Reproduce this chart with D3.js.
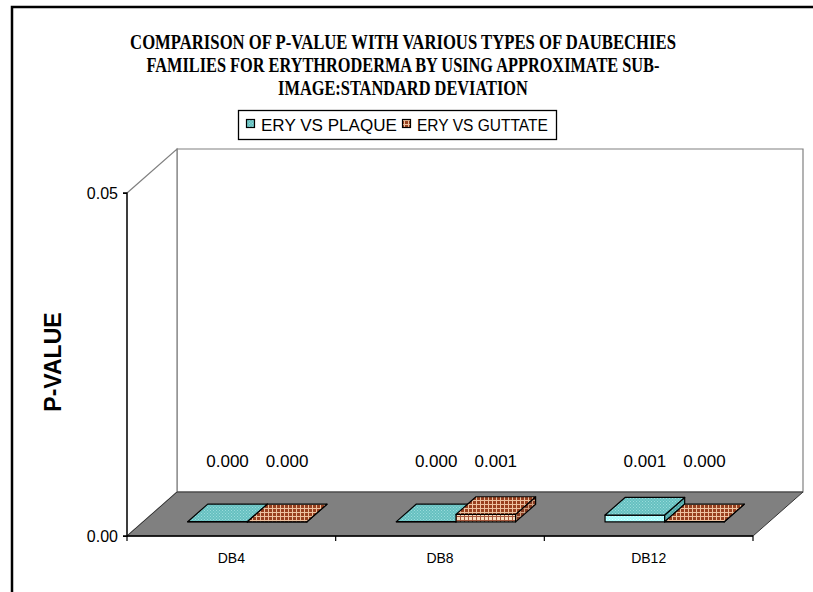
<!DOCTYPE html>
<html>
<head>
<meta charset="utf-8">
<script src="https://cdn.jsdelivr.net/npm/d3@7"></script>
<style>
  html, body { margin: 0; padding: 0; background: #fff; overflow: hidden; }
  svg { display: block; }
</style>
</head>
<body>
<script>
// ---------- data ----------
const categories = ["DB4", "DB8", "DB12"];
const seriesNames = ["ERY VS PLAQUE", "ERY VS GUTTATE"];
const plaqueValues = [0.00003, 0.00004, 0.0010];
const guttateValues = [0.00002, 0.0011, 0.00003];
const yTicks = [0, 0.05];
const titleLines = [
  "COMPARISON OF P-VALUE WITH VARIOUS TYPES OF DAUBECHIES",
  "FAMILIES FOR ERYTHRODERMA BY USING APPROXIMATE SUB-",
  "IMAGE:STANDARD DEVIATION"
];
const yAxisTitle = "P-VALUE";

// ---------- layout ----------
const W = 813, H = 592;
const plotLeft = 127, plotRight = 753, floorY = 536, topY = 193;
const depthX = 50, depthY = -44;      // oblique depth offset of the back wall
const barD0 = 0.32, barD1 = 0.72;     // depth span of bars (fraction of floor depth)

const svg = d3.select("body").append("svg").attr("width", W).attr("height", H);
const defs = svg.append("defs");
svg.append("rect").attr("width", W).attr("height", H).attr("fill", "#fff");

// patterns
function gridPattern(id, base, line, step, lw) {
  const p = defs.append("pattern").attr("id", id).attr("patternUnits", "userSpaceOnUse")
    .attr("width", step).attr("height", step);
  p.append("rect").attr("width", step).attr("height", step).attr("fill", base);
  p.append("rect").attr("x", 0).attr("y", 0).attr("width", lw).attr("height", step).attr("fill", line);
  p.append("rect").attr("x", 0).attr("y", 0).attr("width", step).attr("height", lw).attr("fill", line);
}
function dotPattern(id, base, dot) {
  const p = defs.append("pattern").attr("id", id).attr("patternUnits", "userSpaceOnUse")
    .attr("width", 3).attr("height", 3);
  p.append("rect").attr("width", 3).attr("height", 3).attr("fill", base);
  p.append("rect").attr("x", 0).attr("y", 0).attr("width", 1).attr("height", 1).attr("fill", dot);
  p.append("rect").attr("x", 1.5).attr("y", 1.5).attr("width", 1).attr("height", 1).attr("fill", dot);
}
dotPattern("plaqueTop", "#66c0c0", "#9adcdc");
dotPattern("plaqueFront", "#a4fcfc", "#dfffff");
dotPattern("plaqueSide", "#4fa6a6", "#7cc8c8");
gridPattern("guttTop", "#98401f", "#edc2a0", 4, 1);
gridPattern("guttFront", "#f6dcc0", "#a4553a", 4, 1);
gridPattern("guttSide", "#843a20", "#d0a080", 4, 1);

const fills = [
  { top: "url(#plaqueTop)", front: "url(#plaqueFront)", side: "url(#plaqueSide)" },
  { top: "url(#guttTop)", front: "url(#guttFront)", side: "url(#guttSide)" }
];

// scales
const x = d3.scaleBand().domain(categories).range([plotLeft, plotRight]).padding(0);
const xInner = d3.scaleBand().domain(seriesNames).range([0, x.bandwidth()])
  .paddingInner(0).paddingOuter(0.75);
const y = d3.scaleLinear().domain([0, 0.05]).range([floorY, topY]);

const P = (px, py, d) => [px + depthX * d, py + depthY * d];
const poly = pts => "M" + pts.map(p => p.join(",")).join("L") + "Z";

// walls
const y0 = y(0), yTop = y(yTicks[yTicks.length - 1]);
svg.append("path")
  .attr("d", poly([P(plotLeft, yTop, 1), P(plotRight, yTop, 1), P(plotRight, y0, 1), P(plotLeft, y0, 1)]))
  .attr("fill", "#fff").attr("stroke", "#808080").attr("stroke-width", 1.2);
svg.append("path")
  .attr("d", poly([[plotLeft, yTop], P(plotLeft, yTop, 1), P(plotLeft, y0, 1), [plotLeft, y0]]))
  .attr("fill", "#fff").attr("stroke", "#808080").attr("stroke-width", 1.2);
// floor
svg.append("path")
  .attr("d", poly([[plotLeft, y0], [plotRight, y0], P(plotRight, y0, 1), P(plotLeft, y0, 1)]))
  .attr("fill", "#808080").attr("stroke", "#333").attr("stroke-width", 1);

// y axis
const yAxis = svg.append("g").attr("transform", `translate(${plotLeft},0)`)
  .call(d3.axisLeft(y).tickValues(yTicks).tickFormat(d3.format(".2f")).tickSize(4).tickPadding(5));
yAxis.select(".domain").attr("d", `M-4,${yTop}H0V${y0}H-4`).attr("stroke", "#000").attr("stroke-width", 1.3);
yAxis.selectAll(".tick line").attr("stroke", "#000");
yAxis.selectAll("text").attr("font-family", "Liberation Sans, Arial, sans-serif")
  .attr("font-size", 16).attr("fill", "#000");

// x axis
const xAxisG = svg.append("g");
xAxisG.append("line").attr("x1", plotLeft).attr("x2", plotRight).attr("y1", y0).attr("y2", y0)
  .attr("stroke", "#000").attr("stroke-width", 1.3);
const tickXs = categories.map(c => x(c)).concat([plotRight]);
xAxisG.selectAll("line.tk").data(tickXs).join("line").attr("class", "tk")
  .attr("x1", d => d).attr("x2", d => d).attr("y1", y0).attr("y2", y0 + 5)
  .attr("stroke", "#000").attr("stroke-width", 1.2);
xAxisG.selectAll("text").data(categories).join("text")
  .attr("x", c => x(c) + x.bandwidth() / 2).attr("y", y0 + 27)
  .attr("text-anchor", "middle").attr("font-family", "Liberation Sans, Arial, sans-serif")
  .attr("font-size", 14).attr("fill", "#000").text(c => c);

// bars
const allSeries = [plaqueValues, guttateValues];
const barsG = svg.append("g");
const labelsG = svg.append("g");
categories.forEach((c, ci) => {
  seriesNames.forEach((s, si) => {
    const v = allSeries[si][ci];
    const x0 = x(c) + xInner(s), x1 = x0 + xInner.bandwidth();
    const yt = y(v);
    const f = fills[si];
    barsG.append("path")
      .attr("d", poly([P(x0, yt, barD0), P(x1, yt, barD0), P(x1, y0, barD0), P(x0, y0, barD0)]))
      .attr("fill", f.front).attr("stroke", "#000").attr("stroke-width", 1.2).attr("stroke-linejoin", "round");
    barsG.append("path")
      .attr("d", poly([P(x1, yt, barD0), P(x1, yt, barD1), P(x1, y0, barD1), P(x1, y0, barD0)]))
      .attr("fill", f.side).attr("stroke", "#000").attr("stroke-width", 1.2).attr("stroke-linejoin", "round");
    barsG.append("path")
      .attr("d", poly([P(x0, yt, barD0), P(x1, yt, barD0), P(x1, yt, barD1), P(x0, yt, barD1)]))
      .attr("fill", f.top).attr("stroke", "#000").attr("stroke-width", 1.2).attr("stroke-linejoin", "round");
    const cx = (x0 + x1) / 2 + depthX * (barD0 + barD1) / 2;
    labelsG.append("text")
      .attr("x", cx).attr("y", y0 - 69)
      .attr("text-anchor", "middle").attr("font-family", "Liberation Sans, Arial, sans-serif")
      .attr("font-size", 17).attr("fill", "#000")
      .text(d3.format(".3f")(v));
  });
});

// y axis title
svg.append("text")
  .attr("transform", `translate(61,362) rotate(-90)`)
  .attr("text-anchor", "middle").attr("font-family", "Liberation Sans, Arial, sans-serif")
  .attr("font-weight", "bold").attr("font-size", 23).attr("fill", "#000")
  .text(yAxisTitle);

// title: condensed by a horizontal scale so each line keeps the reference width
const titleLens = [546, 513, 250];
const titleYs = [49, 72, 95];
titleLines.forEach((line, i) => {
  const g = svg.append("g");
  const t = g.append("text").attr("x", 0).attr("y", 0)
    .attr("text-anchor", "middle").attr("font-family", "Liberation Serif, Times New Roman, serif")
    .attr("font-weight", "bold").attr("font-size", 22).attr("fill", "#000").text(line);
  const natural = t.node().getComputedTextLength();
  g.attr("transform", `translate(403,${titleYs[i]}) scale(${titleLens[i] / natural},1)`);
});

// legend
const lg = svg.append("g");
lg.append("rect").attr("x", 238.5).attr("y", 110.5).attr("width", 318).attr("height", 29)
  .attr("fill", "#fff").attr("stroke", "#000").attr("stroke-width", 1.3);
const legendX = [246, 402];
const legendFill = ["url(#plaqueTop)", "url(#guttTop)"];
const legendLens = [136, 131];
seriesNames.forEach((s, i) => {
  lg.append("rect").attr("x", legendX[i] + 0.5).attr("y", 119.5).attr("width", 8).attr("height", 8)
    .attr("fill", legendFill[i]).attr("stroke", "#000").attr("stroke-width", 1.2);
  const g = lg.append("g");
  const t = g.append("text").attr("x", 0).attr("y", 0)
    .attr("font-family", "Liberation Sans, Arial, sans-serif").attr("font-size", 17)
    .attr("fill", "#000").text(s);
  const natural = t.node().getComputedTextLength();
  g.attr("transform", `translate(${legendX[i] + 15},131) scale(${legendLens[i] / natural},1)`);
});

// outer frame (only top and left edges fall inside the picture)
svg.append("path").attr("d", `M12,${H + 5}V7H${W + 5}`)
  .attr("fill", "none").attr("stroke", "#000").attr("stroke-width", 2.5);
</script>
</body>
</html>
